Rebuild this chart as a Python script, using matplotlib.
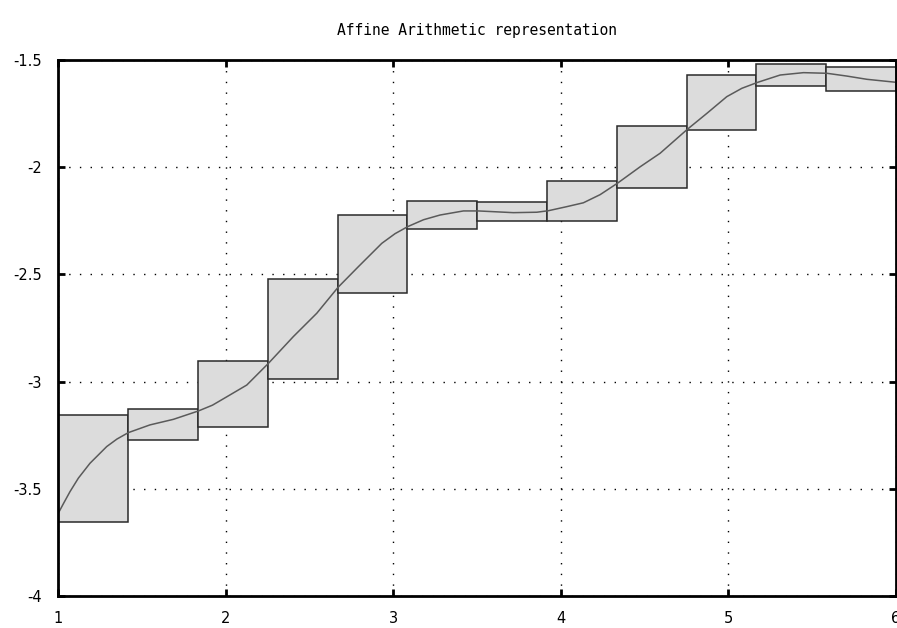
import matplotlib
matplotlib.use("Agg")
import matplotlib.pyplot as plt
from matplotlib.patches import Rectangle

# Interval boxes (x edges and y lower/upper bounds)
box_x_edges = [1.0, 1.4167, 1.8333, 2.25, 2.6667, 3.0833, 3.5, 3.9167,
               4.3333, 4.75, 5.1667, 5.5833, 6.0]
box_y_low = [-3.653, -3.272, -3.210, -2.988, -2.585, -2.287, -2.252,
             -2.251, -2.099, -1.826, -1.620, -1.643]
box_y_high = [-3.156, -3.126, -2.904, -2.521, -2.223, -2.156, -2.164,
              -2.064, -1.808, -1.570, -1.519, -1.531]

# Underlying function curve
curve_x = [1.0, 1.03, 1.07, 1.12, 1.189, 1.289, 1.35, 1.418, 1.547, 1.687,
           1.836, 1.92, 2.001, 2.125, 2.254, 2.403, 2.543, 2.670, 2.791,
           2.931, 3.01, 3.086, 3.18, 3.279, 3.418, 3.507, 3.716, 3.856,
           3.925, 4.035, 4.134, 4.234, 4.337, 4.473, 4.592, 4.755, 4.871,
           4.990, 5.08, 5.175, 5.309, 5.448, 5.588, 5.707, 5.826, 6.0]
curve_y = [-3.614, -3.57, -3.513, -3.45, -3.381, -3.303, -3.268, -3.238,
           -3.202, -3.176, -3.137, -3.110, -3.073, -3.016, -2.915, -2.790,
           -2.681, -2.560, -2.464, -2.355, -2.310, -2.277, -2.245, -2.223,
           -2.204, -2.204, -2.212, -2.210, -2.203, -2.184, -2.166, -2.128,
           -2.075, -1.998, -1.935, -1.823, -1.749, -1.671, -1.632, -1.604,
           -1.570, -1.559, -1.562, -1.575, -1.590, -1.604]

x_ticks = [1, 2, 3, 4, 5, 6]
x_tick_labels = ["1", "2", "3", "4", "5", "6"]
y_ticks = [-4, -3.5, -3, -2.5, -2, -1.5]
y_tick_labels = ["-4", "-3.5", "-3", "-2.5", "-2", "-1.5"]
title = "Affine Arithmetic representation"

fig = plt.figure(figsize=(8.97, 6.28), dpi=100)
ax = fig.add_axes([58.3 / 897, 1 - 596 / 628, (896 - 58.3) / 897, (596 - 60) / 628])

for i in range(len(box_y_low)):
    x0 = box_x_edges[i]
    w = box_x_edges[i + 1] - x0
    ax.add_patch(Rectangle((x0, box_y_low[i]), w, box_y_high[i] - box_y_low[i],
                           facecolor="#dcdcdc", edgecolor="#2a2a2a",
                           linewidth=1.1, zorder=2))

ax.plot(curve_x, curve_y, color="#5a5a5a", linewidth=1.1, zorder=3)

ax.set_xlim(1, 6)
ax.set_ylim(-4, -1.5)
ax.set_xticks(x_ticks)
ax.set_xticklabels(x_tick_labels)
ax.set_yticks(y_ticks)
ax.set_yticklabels(y_tick_labels)

ax.grid(True, color="black", linestyle=(0, (1, 6.7)), linewidth=1.0, zorder=1)
ax.set_axisbelow(True)
for sp in ax.spines.values():
    sp.set_linewidth(2)
    sp.set_color("black")
    sp.set_zorder(5)

ax.tick_params(direction="in", length=5, width=2, top=True, right=True,
               labelsize=10.5, colors="black")
ax.tick_params(axis="x", pad=11)
ax.tick_params(axis="y", pad=12)
for lab in ax.get_xticklabels() + ax.get_yticklabels():
    lab.set_family("DejaVu Sans")

fig.text(477 / 897, 1 - 30 / 628, title, ha="center", va="center",
         family="DejaVu Sans Mono", fontsize=10.5)

fig.savefig("out.png", dpi=100)
